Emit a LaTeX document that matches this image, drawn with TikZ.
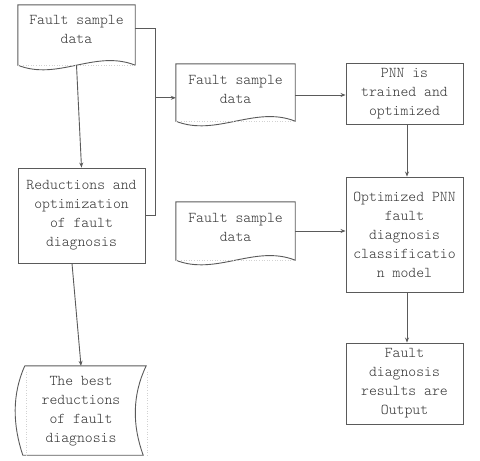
\documentclass[tikz,border=0pt]{standalone}
\usepackage{fontspec}
\newfontfamily\diagfont{Latin Modern Mono Light}
\usetikzlibrary{arrows.meta,calc}
\definecolor{linec}{HTML}{5A5A5A}
\definecolor{textc}{HTML}{333333}
\tikzset{
  txt/.style={font=\diagfont\fontsize{15}{19}\selectfont, align=center, inner sep=0pt, text=textc},
  boxrect/.style={draw=linec, line width=0.9pt, minimum width=#1, inner sep=0pt},
  docarea/.style={draw=none, inner sep=0pt},
  ln/.style={draw=linec, line width=0.9pt},
  arr/.style={ln, -{Stealth[length=5pt,width=4pt]}},
  faint/.style={draw=gray!35, dotted, line width=0.6pt}
}
\newcommand{\docoutline}[1]{%
  \draw[ln] (#1.north west) -- (#1.south west)
    .. controls ($(#1.south west)+(40,16)$) and ($(#1.south east)+(-40,-16)$) .. (#1.south east)
    -- (#1.north east) -- cycle;
  \draw[faint] (#1.south west) -- (#1.south east);}
\begin{document}
\begin{tikzpicture}[x=1pt,y=-1pt]
\useasboundingbox (0,0) rectangle (480,461);
% document shapes
\node[docarea, minimum width=117pt, minimum height=60pt] (d1) at (76.5,35) {};
\node[txt] (d1t) at (76.5,29.5) {Fault sample\\data};
\node[docarea, minimum width=119pt, minimum height=57pt] (d3) at (235.5,92.5) {};
\node[txt] (d3t) at (235.5,89.5) {Fault sample\\data};
\node[docarea, minimum width=119pt, minimum height=58pt] (d4) at (235.5,231) {};
\node[txt] (d4t) at (235.5,227) {Fault sample\\data};
\docoutline{d1}
\docoutline{d3}
\docoutline{d4}
% rectangles
\node[boxrect=127pt, minimum height=95pt, txt] (r2) at (81.5,215.5) {Reductions and\\optimization\\of fault\\diagnosis};
\node[boxrect=117pt, minimum height=61pt, txt] (pnn) at (404.5,93.5) {PNN is\\trained and\\optimized};
\node[boxrect=117pt, minimum height=115pt, txt] (opt) at (404.5,234.5) {Optimized PNN\\fault\\diagnosis\\classificatio\\n model};
\node[boxrect=117pt, minimum height=81pt, txt] (out) at (404.5,383.5) {Fault\\diagnosis\\results are\\Output};
% stored data shape
\node[docarea, minimum width=110pt, minimum height=89pt] (best) at (81,410.5) {};
\node[txt] (bestt) at (81,411.5) {The best\\reductions\\of fault\\diagnosis};
\draw[ln] ($(best.north west)+(-1,0)$) -- ($(best.north east)+(10,0)$)
  .. controls ($(best.north east)+(-4,29)$) and ($(best.south east)+(-4,-30)$) .. ($(best.south east)+(7,0)$)
  -- ($(best.south west)+(-3,0)$)
  .. controls ($(best.south west)+(-13,-30)$) and ($(best.north west)+(-14,29)$) .. ($(best.north west)+(-1,0)$);
\draw[faint] ($(best.north west)+(0,6)$) -- (best.south west);
\draw[faint] ($(best.north east)+(11,6)$) -- ($(best.south east)+(11,0)$);
% connectors
\coordinate (jt) at ($(d1.north east)+(20,24)$);
\coordinate (jm) at ($(jt)+(0,69)$);
\draw[ln] ($(d1.north east)+(0,24)$) -- (jt) -- (jt |- r2.east) -- (r2.east);
\draw[arr] (jm) -- (jm -| d3.west);
\draw[arr] (d1.south) -- (r2.north);
\draw[arr] ($(d3.east)+(0,2.5)$) -- ($(d3.east -| pnn.west)+(0,2.5)$);
\draw[arr] ($(pnn.south)+(2.5,0)$) -- ($(opt.north)+(2.5,0)$);
\draw[arr] (d4.east) -- (d4.east -| opt.west);
\draw[arr] ($(opt.south)+(2.5,0)$) -- ($(out.north)+(2.5,0)$);
\draw[arr] ($(r2.south)+(-9.5,0)$) -- (best.north);
\end{tikzpicture}
\end{document}
